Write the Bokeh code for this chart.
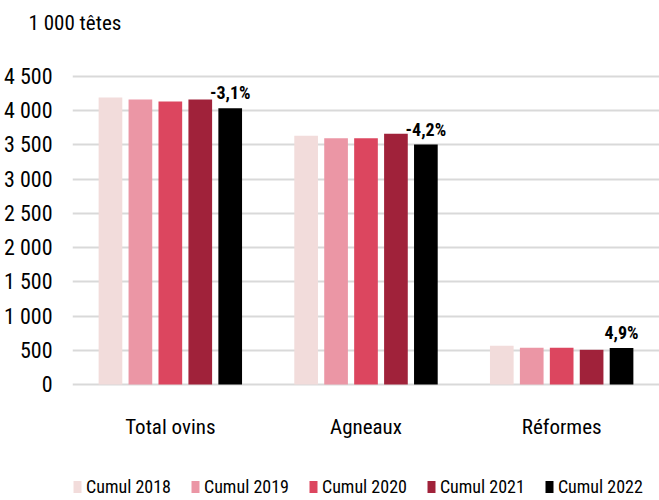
from bokeh.plotting import figure
from bokeh.models import ColumnDataSource, FactorRange, Range1d, FixedTicker, Legend, LegendItem
from bokeh.transform import dodge
from bokeh.core.properties import value
from bokeh.embed import file_html
from bokeh.resources import INLINE

categories = ["Total ovins", "Agneaux", "Réformes"]
series = ["Cumul 2018", "Cumul 2019", "Cumul 2020", "Cumul 2021", "Cumul 2022"]
v2018 = [4193, 3634, 565]
v2019 = [4164, 3599, 536]
v2020 = [4135, 3599, 536]
v2021 = [4164, 3663, 507]
v2022 = [4037, 3506, 533]
pct_labels = ["-3,1%", "-4,2%", "4,9%"]
y_ticks = [0, 500, 1000, 1500, 2000, 2500, 3000, 3500, 4000, 4500]
y_tick_labels = ["0", "500", "1 000", "1 500", "2 000", "2 500", "3 000", "3 500", "4 000", "4 500"]
unit_title = "1 000 têtes"
colors = ["#F2DCDB", "#EB96A5", "#DC465F", "#A0223A", "#000000"]

FONT = "Roboto Condensed, DejaVu Sans Condensed, Open Sans"

src = ColumnDataSource(data=dict(cat=categories, v2018=v2018, v2019=v2019, v2020=v2020,
                                 v2021=v2021, v2022=v2022, pct=pct_labels,
                                 base=[0] * len(categories)))

p = figure(x_range=FactorRange(factors=categories, range_padding=0), y_range=Range1d(-1695, 5114),
           width=659, height=500, output_backend="svg", toolbar_location=None,
           min_border_left=72, min_border_right=0, min_border_top=34, min_border_bottom=0)

p.title.text = unit_title
p.title.align = "left"
p.title.offset = -44
p.title.standoff = 0
p.title.text_font = FONT
p.title.text_font_size = "21px"
p.title.text_font_style = "normal"
p.title.text_color = "#000000"

offsets = [-0.306, -0.153, 0.0, 0.153, 0.306]
keys = ["v2018", "v2019", "v2020", "v2021", "v2022"]
renderers = []
for k, off, c in zip(keys, offsets, colors):
    r = p.vbar(x=dodge("cat", off, range=p.x_range), top=k, width=0.121, source=src,
               fill_color=c, line_color=None)
    renderers.append(r)

p.text(x=dodge("cat", 0.306, range=p.x_range), y="v2022", text="pct", source=src,
       text_font=value(FONT), text_font_size="18px", text_font_style="bold",
       text_align="center", text_baseline="bottom", y_offset=-5, text_color="#000000")

p.text(x="cat", y="base", text="cat", source=src, text_font=value(FONT),
       text_font_size="21px", text_align="center", text_baseline="middle",
       y_offset=43, text_color="#000000")

p.xaxis.visible = False

p.yaxis.ticker = FixedTicker(ticks=y_ticks)
p.yaxis.major_label_overrides = {t: l for t, l in zip(y_ticks, y_tick_labels)}
p.yaxis.axis_line_color = None
p.yaxis.major_tick_line_color = None
p.yaxis.major_tick_out = 0
p.yaxis.major_tick_in = 0
p.yaxis.minor_tick_line_color = None
p.yaxis.minor_tick_out = 0
p.yaxis.major_label_standoff = 20
p.yaxis.major_label_text_font = FONT
p.yaxis.major_label_text_font_size = "22px"
p.yaxis.major_label_text_color = "#000000"

p.xgrid.grid_line_color = None
p.ygrid.grid_line_color = "#d9d9d9"
p.ygrid.grid_line_width = 2
p.outline_line_color = None

legend = Legend(items=[LegendItem(label=s, renderers=[r]) for s, r in zip(series, renderers)],
                orientation="horizontal", location=(0, 3))
legend.glyph_width = 10
legend.glyph_height = 15
legend.label_standoff = 4
legend.spacing = 19
legend.padding = 0
legend.margin = 0
legend.border_line_color = None
legend.background_fill_alpha = 0
legend.label_text_font = FONT
legend.label_text_font_size = "18px"
legend.label_text_color = "#000000"
p.add_layout(legend, "center")

open("out.html", "w").write(file_html(p, INLINE))
